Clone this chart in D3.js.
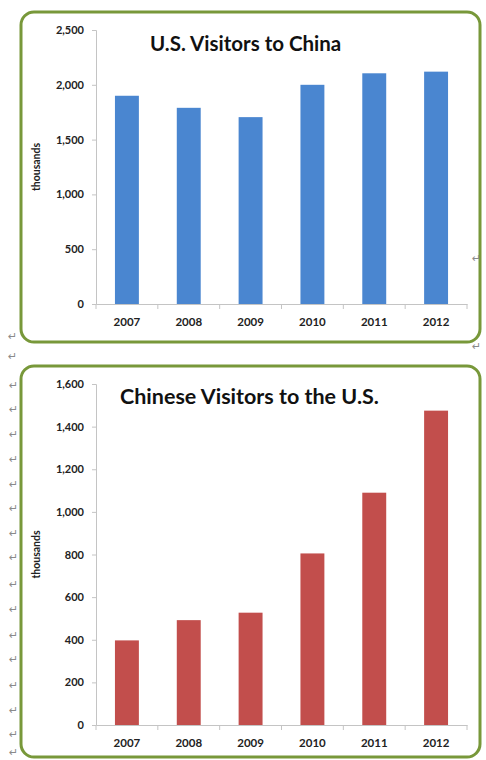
<!DOCTYPE html>
<html>
<head>
<meta charset="utf-8">
<script src="https://cdn.jsdelivr.net/npm/d3@7"></script>
<style>
  body { margin: 0; background: #fff; }
  svg { display: block; }
  .tick text { font-family: Lato, "Open Sans", sans-serif; font-weight: bold; fill: #222; }
  .mark { font-family: "DejaVu Sans", sans-serif; fill: #8a8a8a; font-size: 11px; }
</style>
</head>
<body>
<div id="chart"></div>
<script>
// data
const years = ['2007', '2008', '2009', '2010', '2011', '2012'];
const usToChina = [1900, 1790, 1705, 2000, 2105, 2120];
const chinaToUs = [397, 492, 527, 805, 1090, 1475];
const usTicks = [0, 500, 1000, 1500, 2000, 2500];
const cnTicks = [0, 200, 400, 600, 800, 1000, 1200, 1400, 1600];

// stray paragraph marks from the source document
const leftMarkY = [385, 409, 434, 459, 484, 508, 533, 557, 584, 609, 635, 659, 685, 710, 734, 752];

const svg = d3.select('#chart').append('svg')
    .attr('width', 486)
    .attr('height', 760);

function drawChart(cfg) {
    const { box, plot, title, values, ticks, color, domainMax } = cfg;

    // rounded green frame
    svg.append('rect')
        .attr('x', box.x).attr('y', box.y)
        .attr('width', box.w).attr('height', box.h)
        .attr('rx', 13).attr('ry', 13)
        .attr('fill', '#fff')
        .attr('stroke', '#78983a')
        .attr('stroke-width', 3);

    const x = d3.scaleBand()
        .domain(years)
        .range([plot.left, plot.right])
        .paddingInner(0.613)
        .paddingOuter(0.3065);

    const y = d3.scaleLinear()
        .domain([0, domainMax])
        .range([plot.bottom, plot.top]);

    const g = svg.append('g');

    // y axis
    const yAxis = g.append('g')
        .attr('transform', `translate(${plot.left},0)`)
        .call(d3.axisLeft(y).tickValues(ticks).tickSize(4).tickPadding(8).tickFormat(d3.format(',')));
    yAxis.selectAll('.tick text').attr('font-size', 11);

    // x axis with ticks at category boundaries
    const xAxis = g.append('g')
        .attr('transform', `translate(0,${plot.bottom})`)
        .call(d3.axisBottom(x).tickSize(0).tickPadding(14));
    xAxis.selectAll('.tick text').attr('font-size', 11.5);
    const step = x.step();
    xAxis.selectAll('.bound')
        .data(d3.range(years.length + 1))
        .join('line')
        .attr('class', 'bound')
        .attr('x1', i => plot.left + i * step)
        .attr('x2', i => plot.left + i * step)
        .attr('y1', 0).attr('y2', 5)
        .attr('stroke', '#c4c4c4');

    g.selectAll('.domain').attr('stroke', '#c4c4c4');
    g.selectAll('.tick line').attr('stroke', '#c4c4c4');

    // bars
    g.selectAll('.bar')
        .data(values)
        .join('rect')
        .attr('class', 'bar')
        .attr('x', (d, i) => x(years[i]))
        .attr('y', d => y(d))
        .attr('width', x.bandwidth())
        .attr('height', d => plot.bottom - y(d))
        .attr('fill', color);

    // axis title
    svg.append('text')
        .attr('transform', `translate(${box.x + 19},${(plot.top + plot.bottom) / 2}) rotate(-90)`)
        .attr('text-anchor', 'middle')
        .attr('font-family', 'Lato, sans-serif')
        .attr('font-weight', 'bold')
        .attr('font-size', 10.5)
        .attr('fill', '#222')
        .text('thousands');

    // chart title
    svg.append('text')
        .attr('x', title.x).attr('y', title.y)
        .attr('font-family', 'Lato, sans-serif')
        .attr('font-weight', 'bold')
        .attr('font-size', title.size)
        .attr('fill', '#111')
        .text(title.text);
}

drawChart({
    box: { x: 21, y: 12, w: 459, h: 330 },
    plot: { left: 96, right: 467, top: 30, bottom: 304 },
    title: { text: 'U.S. Visitors to China', x: 150, y: 51, size: 20.5 },
    values: usToChina,
    ticks: usTicks,
    domainMax: 2500,
    color: '#4a86d0'
});

drawChart({
    box: { x: 21, y: 366, w: 459, h: 391 },
    plot: { left: 96, right: 467, top: 384, bottom: 725 },
    title: { text: 'Chinese Visitors to the U.S.', x: 120, y: 404, size: 21.5 },
    values: chinaToUs,
    ticks: cnTicks,
    domainMax: 1600,
    color: '#c24e4c'
});

// paragraph marks
svg.selectAll('.left-mark')
    .data(leftMarkY)
    .join('text')
    .attr('class', 'mark')
    .attr('x', 9)
    .attr('y', d => d + 4)
    .text('\u21b5');

svg.append('text').attr('class', 'mark').attr('x', 8).attr('y', 340).text('\u21b5');
svg.append('text').attr('class', 'mark').attr('x', 8).attr('y', 360).text('\u21b5');
svg.append('text').attr('class', 'mark').attr('x', 472).attr('y', 262).text('\u21b5');
svg.append('text').attr('class', 'mark').attr('x', 472).attr('y', 350).text('\u21b5');
</script>
</body>
</html>
